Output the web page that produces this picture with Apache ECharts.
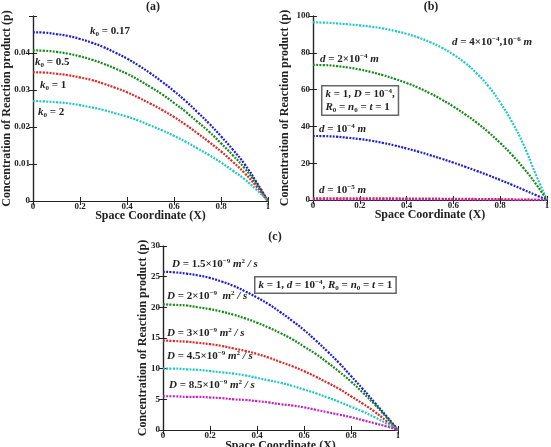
<!DOCTYPE html>
<html>
<head>
<meta charset="utf-8">
<script src="https://cdn.jsdelivr.net/npm/echarts@6/dist/echarts.min.js"></script>
<style>
html, body { margin: 0; background: #fff; }
#chart { width: 551px; height: 447px; }
</style>
</head>
<body>
<div id="chart"></div>
<script>
// x positions shared by every curve
const xs = [0, 0.05, 0.1, 0.15, 0.2, 0.25, 0.3, 0.35, 0.4, 0.45, 0.5, 0.55, 0.6, 0.65, 0.7, 0.75, 0.8, 0.85, 0.9, 0.95, 1];

// panel (a)
const aK017 = [0.0456, 0.0455, 0.0451, 0.0446, 0.0438, 0.0428, 0.0416, 0.0401, 0.0385, 0.0366, 0.0345, 0.0322, 0.0297, 0.0270, 0.0240, 0.0209, 0.0175, 0.0139, 0.0100, 0.0052, 0];
const aK05  = [0.0407, 0.0406, 0.0403, 0.0398, 0.0391, 0.0382, 0.0371, 0.0358, 0.0344, 0.0327, 0.0308, 0.0288, 0.0265, 0.0241, 0.0214, 0.0187, 0.0156, 0.0124, 0.0089, 0.0047, 0];
const aK1   = [0.0348, 0.0347, 0.0344, 0.0340, 0.0334, 0.0327, 0.0317, 0.0306, 0.0294, 0.0279, 0.0263, 0.0246, 0.0227, 0.0206, 0.0183, 0.0159, 0.0134, 0.0106, 0.0076, 0.0040, 0];
const aK2   = [0.0270, 0.0269, 0.0267, 0.0264, 0.0259, 0.0253, 0.0246, 0.0237, 0.0228, 0.0217, 0.0204, 0.0191, 0.0176, 0.0160, 0.0142, 0.0124, 0.0104, 0.0082, 0.0059, 0.0031, 0];

// panel (b)
const bCyan    = [96.5, 96.4, 96.0, 95.5, 94.9, 94.2, 93.2, 91.9, 90.3, 88.3, 85.8, 82.8, 79.0, 74.5, 68.8, 61.8, 53.0, 42.5, 30.0, 14.5, 0];
const bGreen   = [73.4, 73.3, 72.8, 72.0, 70.9, 69.5, 67.8, 65.8, 63.6, 61.0, 58.0, 54.6, 50.8, 46.6, 42.0, 36.8, 31.0, 24.6, 17.3, 9.2, 0];
const bBlue    = [34.8, 34.7, 34.4, 33.8, 33.1, 32.2, 31.0, 29.6, 28.0, 26.3, 24.4, 22.4, 20.3, 18.1, 15.8, 13.4, 10.9, 8.3, 5.6, 2.8, 0];
const bRed     = [0.9, 0.9, 0.9, 0.9, 0.9, 0.9, 0.85, 0.85, 0.8, 0.8, 0.75, 0.7, 0.65, 0.6, 0.55, 0.5, 0.4, 0.3, 0.2, 0.1, 0];
const bMagenta = [0.35, 0.35, 0.35, 0.35, 0.35, 0.35, 0.34, 0.33, 0.32, 0.31, 0.3, 0.28, 0.26, 0.24, 0.21, 0.18, 0.15, 0.12, 0.08, 0.04, 0];

// panel (c)
const cD15 = [25.8, 25.7, 25.5, 25.2, 24.8, 24.2, 23.5, 22.6, 21.6, 20.5, 19.2, 17.8, 16.3, 14.6, 12.8, 10.9, 8.8, 6.7, 4.5, 2.3, 0];
const cD2  = [20.5, 20.4, 20.3, 20.0, 19.7, 19.3, 18.8, 18.2, 17.5, 16.7, 15.8, 14.8, 13.6, 12.4, 11.0, 9.5, 7.9, 6.1, 4.2, 2.1, 0];
const cD3  = [14.6, 14.5, 14.4, 14.2, 14.0, 13.7, 13.3, 12.9, 12.4, 11.8, 11.1, 10.4, 9.6, 8.7, 7.7, 6.7, 5.5, 4.3, 3.0, 1.5, 0];
const cD45 = [10.0, 10.0, 9.9, 9.8, 9.6, 9.4, 9.2, 8.9, 8.5, 8.1, 7.7, 7.2, 6.6, 6.0, 5.3, 4.6, 3.8, 3.0, 2.1, 1.1, 0];
const cD85 = [5.5, 5.5, 5.4, 5.4, 5.3, 5.2, 5.0, 4.9, 4.7, 4.5, 4.2, 4.0, 3.7, 3.3, 2.9, 2.5, 2.1, 1.6, 1.1, 0.6, 0];

// axis ranges
const yMaxes = [0.05, 100, 30];
const ySteps = [0.01, 20, 5];

const SERIF = 'Liberation Serif';
const BLUE = '#1c1cd8', GREEN = '#168a16', RED = '#e02424', CYAN = '#1fc6c6', MAGENTA = '#c41ec4';

const chart = echarts.init(document.getElementById('chart'));

function pairs(ys) {
    return xs.map((x, i) => [x, ys[i]]);
}

function curve(panel, ys, color) {
    return {
        type: 'line',
        xAxisIndex: panel * 2,
        yAxisIndex: panel * 2,
        data: pairs(ys),
        smooth: true,
        showSymbol: false,
        silent: true,
        lineStyle: { color: color, width: 2.2, type: [2, 1.3] }
    };
}

const grids = [
    { left: 33, top: 16, width: 235, height: 185, outerBoundsMode: 'none' },
    { left: 313, top: 16, width: 234, height: 184, outerBoundsMode: 'none' },
    { left: 163, top: 246, width: 235, height: 184, outerBoundsMode: 'none' }
];
const yNameGaps = [20, 22, 14];
const xNameGaps = [9, 9, 10];

const tickLabel = { color: '#222', fontFamily: SERIF, fontWeight: 'bold', fontSize: 9 };
const nameStyle = { color: '#222', fontFamily: SERIF, fontWeight: 'bold', fontSize: 12 };
const lineBlack = { show: true, lineStyle: { color: '#222', width: 1.2 } };

const xAxes = [], yAxes = [];
grids.forEach((g, p) => {
    xAxes.push({
        type: 'value', gridIndex: p, min: 0, max: 1, interval: 0.2,
        name: 'Space Coordinate (X)', nameLocation: 'middle', nameGap: xNameGaps[p], nameTextStyle: nameStyle,
        nameMoveOverlap: false,
        axisLine: lineBlack, axisTick: { inside: true, length: 4, lineStyle: { color: '#222' } },
        axisLabel: { ...tickLabel, margin: 1, formatter: v => String(Number(v.toFixed(1))) },
        splitLine: { show: false }
    });
    xAxes.push({
        type: 'value', gridIndex: p, min: 0, max: 1, interval: 0.2, position: 'top',
        axisLine: lineBlack, axisTick: { inside: true, length: 4, lineStyle: { color: '#222' } },
        axisLabel: { show: false }, splitLine: { show: false }
    });
    yAxes.push({
        type: 'value', gridIndex: p, min: 0, max: yMaxes[p], interval: ySteps[p],
        name: 'Concentration of Reaction product (p)', nameLocation: 'middle', nameGap: yNameGaps[p],
        nameTextStyle: nameStyle, nameMoveOverlap: false,
        axisLine: lineBlack, axisTick: { inside: true, length: 4, lineStyle: { color: '#222' } },
        axisLabel: {
            ...tickLabel, margin: 3,
            formatter: v => (p === 0 && Math.abs(v - 0.05) < 1e-9) ? '' : String(Number(v.toFixed(2)))
        },
        splitLine: { show: false }
    });
    yAxes.push({
        type: 'value', gridIndex: p, min: 0, max: yMaxes[p], interval: ySteps[p], position: 'right',
        axisLine: lineBlack, axisTick: { inside: true, length: 4, lineStyle: { color: '#222' } },
        axisLabel: { show: false }, splitLine: { show: false }
    });
});

const rich = {
    i: { fontFamily: SERIF, fontStyle: 'italic', fontWeight: 'bold', fontSize: 11, color: '#222', lineHeight: 13 },
    b: { fontFamily: SERIF, fontWeight: 'bold', fontSize: 11, color: '#222', lineHeight: 13 },
    sup: { fontFamily: SERIF, fontWeight: 'bold', fontSize: 7, color: '#222', verticalAlign: 'top', lineHeight: 8 },
    sub: { fontFamily: SERIF, fontWeight: 'bold', fontSize: 7, color: '#222', verticalAlign: 'bottom', lineHeight: 10 }
};

function label(x, y, text, extra) {
    return {
        type: 'text', left: x, top: y, silent: true, z: 100,
        style: Object.assign({ text: text, rich: rich, fill: '#222' }, extra || {})
    };
}

function title(cx, cy, text) {
    return {
        type: 'text', x: cx, y: cy, silent: true,
        style: { text: text, fontFamily: SERIF, fontWeight: 'bold', fontSize: 12, fill: '#222', align: 'center', verticalAlign: 'middle' }
    };
}

const boxStyle = { backgroundColor: '#fff', borderColor: '#666', borderWidth: 1.5, padding: [1, 3] };

const graphics = [
    title(153, 7, '(a)'),
    title(431, 7, '(b)'),
    title(275, 237, '(c)'),
    // panel (a) labels
    label(90, 26, '{i|k}{sub|0}{b| = 0.17}'),
    label(35, 57, '{i|k}{sub|0}{b| = 0.5}'),
    label(40, 80, '{i|k}{sub|0}{b| = 1}'),
    label(38, 107, '{i|k}{sub|0}{b| = 2}'),
    // panel (b) labels
    label(452, 36, '{i|d}{b| = 4×10}{sup|−4}{b|,10}{sup|−6}{i| m}'),
    label(320, 53, '{i|d}{b| = 2×10}{sup|−4}{i| m}'),
    label(321, 85, '{i|k}{b| = 1, }{i|D}{b| = 10}{sup|−4}{b|,}\n{i|R}{sub|0}{b| = }{i|n}{sub|0}{b| = }{i|t}{b| = 1}', boxStyle),
    label(319, 123, '{i|d}{b| = 10}{sup|−4}{i| m}'),
    label(319, 184, '{i|d}{b| = 10}{sup|−5}{i| m}'),
    // panel (c) labels
    label(172, 258, '{i|D}{b| = 1.5×10}{sup|−9}{i| m}{sup|2}{i| / s}'),
    label(254, 276, '{i|k}{b| = 1, }{i|d}{b| = 10}{sup|−4}{b|, }{i|R}{sub|0}{b| = }{i|n}{sub|0}{b| = }{i|t}{b| = 1}', boxStyle),
    label(167, 290, '{i|D}{b| = 2×10}{sup|−9}{i|  m}{sup|2}{i| / s}'),
    label(167, 327, '{i|D}{b| = 3×10}{sup|−9}{i| m}{sup|2}{i| / s}'),
    label(167, 350, '{i|D}{b| = 4.5×10}{sup|−9}{i| m}{sup|2}{i| / s}'),
    label(169, 379, '{i|D}{b| = 8.5×10}{sup|−9}{i| m}{sup|2}{i| / s}')
];

chart.setOption({
    backgroundColor: '#fff',
    animation: false,
    grid: grids,
    xAxis: xAxes,
    yAxis: yAxes,
    graphic: graphics,
    series: [
        curve(0, aK017, BLUE),
        curve(0, aK05, GREEN),
        curve(0, aK1, RED),
        curve(0, aK2, CYAN),
        curve(1, bCyan, CYAN),
        curve(1, bGreen, GREEN),
        curve(1, bBlue, BLUE),
        curve(1, bRed, RED),
        curve(1, bMagenta, MAGENTA),
        curve(2, cD15, BLUE),
        curve(2, cD2, GREEN),
        curve(2, cD3, RED),
        curve(2, cD45, CYAN),
        curve(2, cD85, MAGENTA)
    ]
});
</script>
</body>
</html>
